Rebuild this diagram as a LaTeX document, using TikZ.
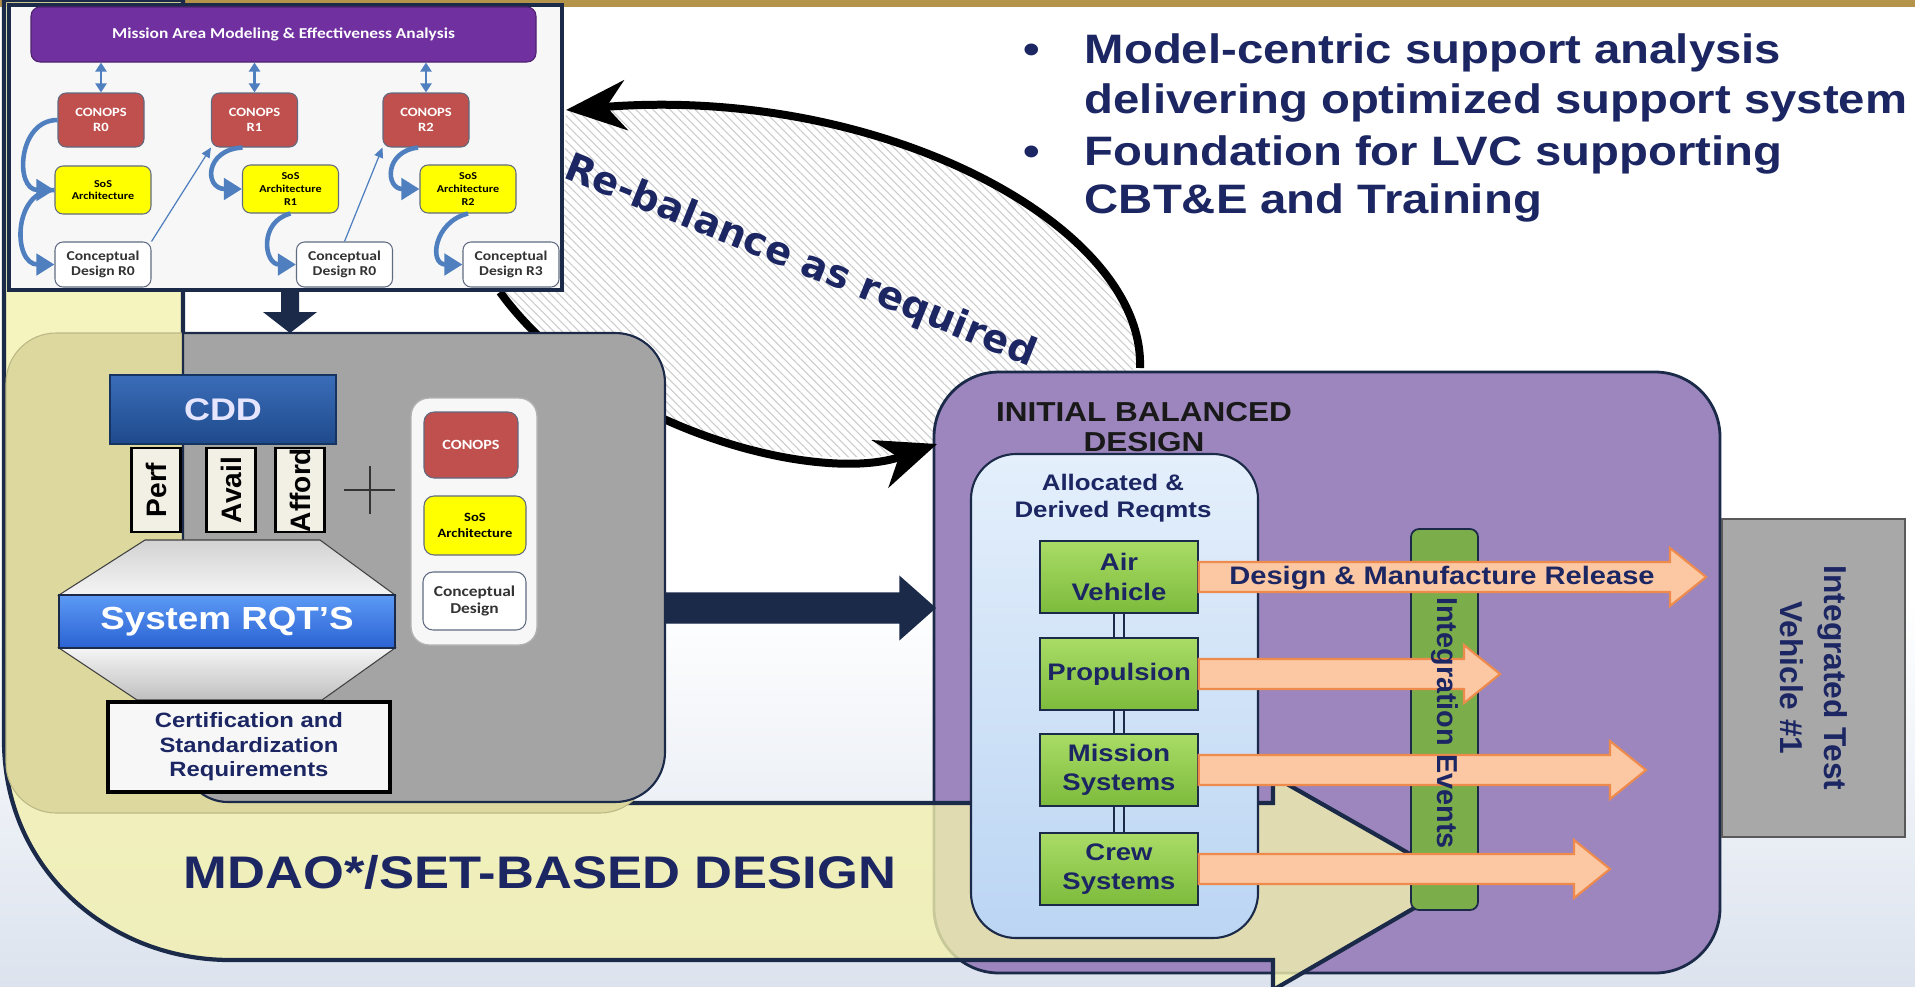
\documentclass[tikz,border=0pt]{standalone}
\usepackage{fontspec}
\setmainfont{Liberation Sans}[FakeStretch=1.15]
\newfontfamily\uprightsans{Liberation Sans}
\newfontfamily\calsans{Carlito}[FakeStretch=1.15]
\newfontfamily\dejasans{DejaVu Sans}
\usetikzlibrary{arrows.meta,calc,patterns.meta,positioning}

\definecolor{navytext}{HTML}{1B2663}
\definecolor{navyline}{HTML}{1C2A4A}
\definecolor{goldband}{HTML}{B3944A}
\definecolor{bgblue}{HTML}{DCE3EE}
\definecolor{armyellow}{HTML}{F3F1AE}
\definecolor{khaki}{HTML}{DDD89E}
\definecolor{boxgray}{HTML}{A4A4A4}
\definecolor{ibdpurple}{HTML}{9C86BD}
\definecolor{alloctop}{HTML}{E4EFFB}
\definecolor{allocbot}{HTML}{BBD5F3}
\definecolor{leaftop}{HTML}{A9DC66}
\definecolor{leafbot}{HTML}{7DBB3C}
\definecolor{bargreen}{HTML}{7BAD4A}
\definecolor{peach}{HTML}{FBC8A3}
\definecolor{peachline}{HTML}{EE8B4C}
\definecolor{cddtop}{HTML}{3A6DB8}
\definecolor{cddbot}{HTML}{1F4A8C}
\definecolor{rqttop}{HTML}{5C9AF5}
\definecolor{rqtbot}{HTML}{2A62D2}
\definecolor{conopsred}{HTML}{C0504D}
\definecolor{sosyellow}{HTML}{FFFF00}
\definecolor{insetpurple}{HTML}{7030A0}
\definecolor{steel}{HTML}{4F7FBF}
\definecolor{cream}{HTML}{F2EFE4}

\newcommand\fsz[2]{\fontsize{#1}{#2}\selectfont}
% style, from, to, half shaft, half head, head length
\newcommand\fatarrow[6]{%
  \draw[#1] ($(#2)+(0,-#4)$) -- ($(#3)+(-#6,-#4)$) -- ($(#3)+(-#6,-#5)$) -- (#3)
    -- ($(#3)+(-#6,#5)$) -- ($(#3)+(-#6,#4)$) -- ($(#2)+(0,#4)$) -- cycle;}

\tikzset{
    every node/.style={inner sep=0pt, font=\bfseries, text=navytext}
}
\tikzset{
    inbox/.style={draw=navyline!70, line width=0.3pt, rounded corners=0.8mm,
    	align=center},
    conops/.style={inbox, fill=conopsred, text=white, minimum width=8.6mm,
    	minimum height=5.4mm, font=\calsans\bfseries\fsz{3.6}{4.3}},
    sos/.style={inbox, fill=sosyellow, text=black, minimum width=9.6mm,
    	minimum height=4.8mm, font=\calsans\bfseries\fsz{3}{3.6}},
    concept/.style={inbox, fill=white, text=black!80, minimum width=9.6mm,
    	minimum height=4.5mm, font=\calsans\bfseries\fsz{3.85}{4.3}},
    curl/.style={draw=steel, line width=1.3pt,
    	-{Triangle[length=1.8mm,width=2.1mm]}},
    thinarr/.style={draw=steel, line width=0.35pt,
    	-{Triangle[length=1mm,width=0.9mm]}},
    updown/.style={draw=steel, line width=0.6pt,
    	{Triangle[length=0.9mm,width=1.1mm]}-{Triangle[length=0.9mm,width=1.1mm]}},
    leaf/.style={draw=navyline, line width=0.4pt, top color=leaftop,
    	bottom color=leafbot, minimum width=15.8mm, minimum height=7.2mm,
    	align=center, font=\bfseries\fsz{6.8}{8.3}},
    reqbox/.style={draw=black, line width=0.6pt, fill=cream, rotate=90,
    	minimum width=8.4mm, minimum height=4.9mm, text=black,
    	font=\uprightsans\bfseries\fsz{8}{9}},
    peacharrow/.style={fill=peach, draw=peachline, line width=0.6pt},
    navyarrow/.style={fill=navyline, draw=navyline},
    rebalance/.style={draw=black, line width=0.8mm,
    	-{Stealth[length=6mm,width=5mm]}},
    bullet/.style={anchor=base west, font=\bfseries\fsz{11.7}{14}}
}

\begin{document}
\begin{tikzpicture}[x=0.1mm, y=-0.1mm]
	\fill[white] (0,0) rectangle (1915,986);
	\useasboundingbox (0,0) rectangle (1915,986);
	\shade[top color=white, bottom color=bgblue] (0,600) rectangle (1915,986);
	\fill[goldband] (0,0) rectangle (1915,7);

	% hatched loop
	\coordinate (loopA) at (566,110);
	\coordinate (loopB) at (1140,368);
	\coordinate (loopC) at (500,292);
	\coordinate (loopD) at (937,444);
	\path[pattern={Lines[angle=-45,distance=1.7pt,line width=0.3pt]},
		pattern color=gray!40]
		(loopB) .. controls (1145,225) and (880,85) .. (loopA) -- (562,292)
		-- (loopC) .. controls (600,430) and (820,485) .. (loopD)
		-- (1000,400) -- cycle;

	\node[draw=navyline, line width=0.8pt, fill=ibdpurple, rounded corners=6.5mm,
		minimum width=78.6mm, minimum height=60.1mm] (ibd) at (1327,672.5) {};

	\draw[rebalance] (loopB) .. controls (1145,225) and (880,85) .. (loopA);
	\draw[rebalance] (loopC) .. controls (600,430) and (820,485) .. (loopD);

	% big U arrow
	\draw[navyline, line width=1.2pt, fill=armyellow, fill opacity=0.8]
		(4,0) -- (4,740) .. controls (4,870) and (110,960) .. (230,960)
		-- (1273,960) -- (1273,990) -- (1459,882) -- (1273,776) -- (1273,803)
		-- (183,803) -- (183,0) -- cycle;

	% requirements panel
	\node[fill=khaki, draw=khaki!85!black, line width=0.3pt, rounded corners=5mm,
		minimum width=64.4mm, minimum height=48mm] (panel) at (328,573) {};
	\draw[navyline, line width=0.6pt, fill=boxgray] (183,333) -- (615,333)
		.. controls (643,333) and (665,355) .. (665,383) -- (665,752)
		.. controls (665,780) and (643,802) .. (615,802) -- (228,802)
		.. controls (203,802) and (183,782) .. (183,757) -- cycle;
	\node[draw=cddbot!70!black, line width=0.4pt, top color=cddtop,
		bottom color=cddbot, minimum width=22.6mm, minimum height=6.9mm,
		text=white!90!blue, font=\bfseries\fsz{8.9}{10}] (cdd) at (223,409.5) {CDD};
	\node[reqbox] (perf) at (156,490) {Perf};
	\node[reqbox] (avail) at (231,490) {Avail};
	\node[reqbox] (afford) at (300,490) {Afford};
	\shade[top color=gray!35, bottom color=gray!8, draw=gray!50!black,
		line width=0.3pt] (145,540) -- (320,540) -- (395,595) -- (59,595) -- cycle;
	\shade[top color=gray!8, bottom color=gray!50, draw=gray!50!black,
		line width=0.3pt] (59,648) -- (395,648) -- (322,700) -- (137,700) -- cycle;
	\node[draw=navyline, line width=0.6pt, top color=rqttop, bottom color=rqtbot,
		minimum width=33.6mm, minimum height=5.3mm, text=white,
		font=\bfseries\fsz{9.1}{10}] (rqt) at (227,621.5) {System RQT'S};
	\node[draw=black, line width=1.1pt, fill=gray!6, minimum width=28.2mm,
		minimum height=9mm, align=center, font=\bfseries\fsz{5.9}{7}] (cert)
		at (249,747) {Certification and\\Standardization\\Requirements};
	\draw[black!80, line width=0.7pt] (344,490) -- (395,490) (370,466) -- (370,514);
	\node[draw=gray!60, line width=0.4pt, fill=gray!6, rounded corners=1.8mm,
		minimum width=12.6mm, minimum height=24.7mm] (stack) at (474,521.5) {};
	\node[conops, minimum width=9.4mm, minimum height=6.6mm, rounded corners=1mm,
		font=\calsans\bfseries\fsz{4}{5}] (stkconops) at (471,445) {CONOPS};
	\node[sos, minimum width=10.2mm, minimum height=5.9mm, rounded corners=1mm,
		font=\calsans\bfseries\fsz{3.6}{4.5}] (stksos) at (475,525.5)
		{SoS\\Architecture};
	\node[concept, minimum width=10.3mm, minimum height=5.8mm, rounded corners=1mm,
		font=\calsans\bfseries\fsz{4.3}{5}] (stkcd) at (474.5,601)
		{Conceptual\\Design};

	% initial balanced design
	\node[draw=navyline, line width=0.6pt, top color=alloctop,
		bottom color=allocbot, rounded corners=4.5mm, minimum width=28.7mm,
		minimum height=48.4mm] (alloc) at (1114.5,696) {};
	\node[align=center, font=\bfseries\fsz{6.4}{7.7}] (alloclbl) at (1113,498)
		{Allocated \&\\Derived Reqmts};
	\node[align=center, text=black!90, font=\bfseries\fsz{7.8}{8.5}] (ibdlbl)
		at (1144,427) {INITIAL BALANCED\\DESIGN};
	\node[leaf] (air) at (1119,577) {Air\\Vehicle};
	\node[leaf] (prop) at (1119,674) {Propulsion};
	\node[leaf] (msn) at (1119,770) {Mission\\Systems};
	\node[leaf] (crew) at (1119,869) {Crew\\Systems};
	\foreach \a/\b in {air/prop, prop/msn, msn/crew}
		\draw[navyline, line width=0.6pt]
			([xshift=-0.5mm]\a.south) -- ([xshift=-0.5mm]\b.north)
			([xshift=0.5mm]\a.south) -- ([xshift=0.5mm]\b.north);
	\node[draw=navyline, line width=0.5pt, fill=bargreen, rounded corners=0.8mm,
		rotate=-90, minimum width=38.1mm, minimum height=6.7mm] (integ)
		at (1444.5,719.5) {};
	\coordinate (airtip) at (1706,577);
	\coordinate (proptip) at (1500,674);
	\coordinate (msntip) at (1646,770);
	\coordinate (crewtip) at (1610,869);
	\fatarrow{peacharrow}{air.east}{airtip}{15}{29}{36}
	\fatarrow{peacharrow}{prop.east}{proptip}{15}{29}{36}
	\fatarrow{peacharrow}{msn.east}{msntip}{15}{29}{36}
	\fatarrow{peacharrow}{crew.east}{crewtip}{15}{29}{36}
	\node[font=\bfseries\fsz{7.2}{8}] (dmr) at (1442,578)
		{Design \& Manufacture Release};
	\node[rotate=-90, font=\uprightsans\bfseries\fsz{8.2}{9}] (integlbl)
		at (1444.5,723) {Integration Events};
	\node[draw=gray!70!black, line width=0.5pt, fill=black!34, rotate=-90,
		minimum width=31.8mm, minimum height=18.3mm, align=center,
		font=\uprightsans\bfseries\fsz{9}{12.5}] (itv) at (1813.5,678)
		{Integrated Test\\Vehicle \#1};

	% mission area inset
	\node[draw=navyline, line width=0.9pt, fill=gray!6, minimum width=55.3mm,
		minimum height=28.5mm] (inset) at (285.5,147.5) {};
	\node[fill=insetpurple, draw=insetpurple!70!black, line width=0.3pt,
		rounded corners=0.9mm, minimum width=50.5mm, minimum height=5.5mm,
		text=white, font=\calsans\bfseries\fsz{4.3}{5}] (mission) at (283.5,34.5)
		{Mission Area Modeling \& Effectiveness Analysis};
	\node[conops] (conopsA) at (101,120) {CONOPS\\R0};
	\node[conops] (conopsB) at (254.5,120) {CONOPS\\R1};
	\node[conops] (conopsC) at (426,120) {CONOPS\\R2};
	\node[sos] (sosA) at (103,190) {SoS\\Architecture};
	\node[sos] (sosB) at (290.5,189) {SoS\\Architecture\\R1};
	\node[sos] (sosC) at (468,189) {SoS\\Architecture\\R2};
	\node[concept] (cdA) at (103,264.5) {Conceptual\\Design R0};
	\node[concept] (cdB) at (344.5,264.5) {Conceptual\\Design R0};
	\node[concept] (cdC) at (511,264.5) {Conceptual\\Design R3};
	\foreach \n in {conopsA, conopsB, conopsC}
		\draw[updown] (\n.north |- mission.south) -- (\n.north);
	\draw[curl] (conopsA.west) .. controls +(-40,0) and +(-40,0) .. (sosA.west);
	\draw[curl] (sosA.west) .. controls +(-42,0) and +(-42,0) .. (cdA.west);
	\draw[curl] ([xshift=-1.2mm]conopsB.south) .. controls +(-38,2) and +(-38,0)
		.. (sosB.west);
	\draw[curl] (sosB.south) .. controls +(-32,8) and +(-32,0) .. (cdB.west);
	\draw[curl] ([xshift=-0.8mm]conopsC.south) .. controls +(-34,4) and +(-34,0)
		.. (sosC.west);
	\draw[curl] (sosC.south) .. controls +(-34,8) and +(-34,0) .. (cdC.west);
	\draw[thinarr] (cdA.north east) -- (conopsB.south west);
	\draw[thinarr] (cdB.north) -- (conopsC.south west);

	% navy arrows
	\coordinate (downtip) at (290,333);
	\fill[navyline] ($(inset.south -| downtip)+(-9,0)$) -- ($(downtip)+(-9,-21)$)
		-- ($(downtip)+(-27,-21)$) -- (downtip) -- ($(downtip)+(27,-21)$)
		-- ($(downtip)+(9,-21)$) -- ($(inset.south -| downtip)+(9,0)$) -- cycle;
	\coordinate (grayE) at (665,608);
	\coordinate (ibdW) at (935,608);
	\fatarrow{navyarrow}{grayE}{ibdW}{15}{31}{35}

	% texts
	\node[anchor=base, font=\bfseries\fsz{11.7}{14}] (dotA) at (1032,63) {\textbullet};
	\node[bullet] (bulA1) at (1084,63) {Model-centric support analysis};
	\node[bullet] (bulA2) at (1084,113) {delivering optimized support system};
	\node[anchor=base, font=\bfseries\fsz{11.7}{14}] (dotB) at (1032,165) {\textbullet};
	\node[bullet] (bulB1) at (1084,165) {Foundation for LVC supporting};
	\node[bullet] (bulB2) at (1084,213) {CBT\&E and Training};
	\node[rotate=-22, font=\dejasans\bfseries\fsz{11}{12}] (rebal) at (800,262)
		{Re-balance as required};
	\node[anchor=base, font=\bfseries\fsz{13}{14}] (mdao) at (540,888)
		{MDAO*/SET-BASED DESIGN};
\end{tikzpicture}
\end{document}
